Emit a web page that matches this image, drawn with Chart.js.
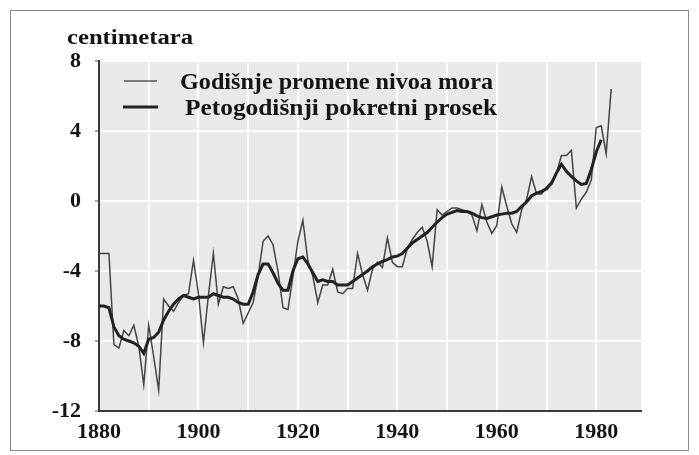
<!DOCTYPE html>
<html><head><meta charset="utf-8">
<script src="https://cdn.jsdelivr.net/npm/chart.js@4.4.1/dist/chart.umd.min.js"></script>
<style>
html,body{margin:0;padding:0;background:#fff;}
#wrap{position:relative;width:699px;height:455px;}
#frame{position:absolute;left:10px;top:10px;width:677px;height:439px;border:1px solid #8a8a8a;pointer-events:none;}
canvas{display:block;}
</style></head><body>
<div id="wrap"><canvas id="c" width="699" height="455"></canvas><div id="frame"></div></div>
<script>
// ---- data ----
const yearsAnnual = [1880,1881,1882,1883,1884,1885,1886,1887,1888,1889,
  1890,1891,1892,1893,1894,1895,1896,1897,1898,1899,
  1900,1901,1902,1903,1904,1905,1906,1907,1908,1909,
  1910,1911,1912,1913,1914,1915,1916,1917,1918,1919,
  1920,1921,1922,1923,1924,1925,1926,1927,1928,1929,
  1930,1931,1932,1933,1934,1935,1936,1937,1938,1939,
  1940,1941,1942,1943,1944,1945,1946,1947,1948,1949,
  1950,1951,1952,1953,1954,1955,1956,1957,1958,1959,
  1960,1961,1962,1963,1964,1965,1966,1967,1968,1969,
  1970,1971,1972,1973,1974,1975,1976,1977,1978,1979,
  1980,1981,1982,1983];
const annualChange = [-3.0,-3.0,-3.0,-8.2,-8.4,-7.4,-7.7,-7.1,-8.3,-10.5,
  -7.1,-8.9,-10.8,-5.6,-6.0,-6.3,-5.8,-5.4,-5.3,-3.4,
  -5.3,-8.1,-5.4,-3.0,-5.9,-4.9,-5.0,-4.9,-5.6,-7.0,
  -6.4,-5.8,-4.3,-2.3,-2.0,-2.5,-4.0,-6.1,-6.2,-4.3,
  -2.3,-1.1,-3.4,-4.3,-5.8,-4.8,-4.8,-3.9,-5.2,-5.3,
  -5.0,-5.0,-3.0,-4.2,-5.1,-3.9,-3.5,-3.8,-2.1,-3.5,
  -3.75,-3.75,-2.7,-2.2,-1.8,-1.5,-2.3,-3.75,-0.5,-0.8,
  -0.6,-0.4,-0.4,-0.5,-0.6,-0.8,-1.7,-0.2,-1.2,-1.85,
  -1.4,0.8,-0.3,-1.3,-1.8,-0.5,0.1,1.4,0.4,0.4,
  0.8,1.1,1.6,2.6,2.6,2.9,-0.4,0.1,0.5,1.2,
  4.2,4.3,2.7,6.4];
const yearsAverage = [1880,1881,1882,1883,1884,1885,1886,1887,1888,1889,
  1890,1891,1892,1893,1894,1895,1896,1897,1898,1899,
  1900,1901,1902,1903,1904,1905,1906,1907,1908,1909,
  1910,1911,1912,1913,1914,1915,1916,1917,1918,1919,
  1920,1921,1922,1923,1924,1925,1926,1927,1928,1929,
  1930,1931,1932,1933,1934,1935,1936,1937,1938,1939,
  1940,1941,1942,1943,1944,1945,1946,1947,1948,1949,
  1950,1951,1952,1953,1954,1955,1956,1957,1958,1959,
  1960,1961,1962,1963,1964,1965,1966,1967,1968,1969,
  1970,1971,1972,1973,1974,1975,1976,1977,1978,1979,
  1980,1981];
const movingAverage = [-6.0,-6.0,-6.1,-7.2,-7.7,-7.9,-8.0,-8.1,-8.3,-8.7,
  -7.9,-7.8,-7.5,-6.8,-6.3,-5.9,-5.6,-5.4,-5.5,-5.6,
  -5.5,-5.5,-5.5,-5.3,-5.4,-5.5,-5.5,-5.6,-5.8,-5.9,
  -5.9,-5.2,-4.2,-3.6,-3.6,-4.1,-4.7,-5.1,-5.1,-4.0,
  -3.3,-3.2,-3.6,-4.1,-4.6,-4.5,-4.6,-4.6,-4.8,-4.8,
  -4.8,-4.6,-4.4,-4.2,-4.0,-3.75,-3.6,-3.45,-3.35,-3.2,
  -3.15,-3.0,-2.7,-2.4,-2.2,-2.0,-1.8,-1.5,-1.2,-0.95,
  -0.75,-0.65,-0.55,-0.6,-0.6,-0.7,-0.85,-0.95,-1.0,-0.9,
  -0.8,-0.75,-0.7,-0.7,-0.6,-0.3,-0.05,0.3,0.45,0.55,
  0.7,1.0,1.6,2.1,1.7,1.4,1.15,0.95,1.0,1.8,
  2.8,3.5];
const xTickLabels = [1880,1900,1920,1940,1960,1980];
const yTickLabels = [-12,-8,-4,0,4,8];
const seriesNames = ['Godišnje promene nivoa mora','Petogodišnji pokretni prosek'];
const unitLabel = 'centimetara';

// ---- styling / drawing ----
const SERIF = '"Liberation Serif", "Times New Roman", serif';
const plotBg = {
  id: 'plotBg',
  beforeDraw(chart){
    const a = chart.chartArea, ctx = chart.ctx;
    ctx.save(); ctx.fillStyle = '#e9e9e9';
    ctx.fillRect(a.left, a.top, a.right - a.left, a.bottom - a.top);
    ctx.restore();
  }
};
function stretchText(ctx, text, x, y, font, targetW){
  ctx.save();
  ctx.font = font;
  const w = ctx.measureText(text).width;
  ctx.translate(x, y);
  ctx.scale(targetW / w, 1);
  ctx.fillText(text, 0, 0);
  ctx.restore();
}
const overlayText = {
  id: 'overlayText',
  afterDraw(chart){
    const ctx = chart.ctx;
    ctx.save();
    ctx.fillStyle = '#141414';
    ctx.textBaseline = 'alphabetic';
    ctx.textAlign = 'left';
    stretchText(ctx, unitLabel, 67, 44, 'bold 20px ' + SERIF, 126);
    // legend samples
    ctx.strokeStyle = '#555555'; ctx.lineWidth = 1.3;
    ctx.beginPath(); ctx.moveTo(124, 81); ctx.lineTo(157, 81); ctx.stroke();
    ctx.strokeStyle = '#222222'; ctx.lineWidth = 3;
    ctx.beginPath(); ctx.moveTo(123, 107); ctx.lineTo(158, 107); ctx.stroke();
    stretchText(ctx, seriesNames[0], 180, 89, 'bold 23px ' + SERIF, 313);
    stretchText(ctx, seriesNames[1], 185, 115, 'bold 23px ' + SERIF, 312);
    ctx.restore();
  }
};

const tickFont = {family: SERIF, weight: 'bold', size: 22};
new Chart(document.getElementById('c'), {
  type: 'line',
  data: {
    datasets: [
      {
        label: seriesNames[0],
        data: yearsAnnual.map((x, i) => ({x: x, y: annualChange[i]})),
        borderColor: '#444444', borderWidth: 1.5,
        pointRadius: 0, tension: 0, fill: false, order: 2
      },
      {
        label: seriesNames[1],
        data: yearsAverage.map((x, i) => ({x: x, y: movingAverage[i]})),
        borderColor: '#222222', borderWidth: 3,
        pointRadius: 0, tension: 0, fill: false, order: 1
      }
    ]
  },
  options: {
    responsive: false,
    animation: false,
    devicePixelRatio: 1,
    layout: {padding: {top: 61, right: 58, left: 0, bottom: 0}},
    plugins: {legend: {display: false}, tooltip: {enabled: false}, title: {display: false}},
    scales: {
      x: {
        type: 'linear', min: 1880, max: 1989,
        afterFit(s){ s.height = 44; },
        ticks: {
          stepSize: 10, autoSkip: false, includeBounds: false, maxRotation: 0,
          padding: 8, color: '#141414', font: tickFont,
          callback: v => xTickLabels.includes(v) ? String(v) : ''
        },
        grid: {
          color: c => (c.tick && c.tick.value === 1880) ? 'rgba(0,0,0,0)' : '#ffffff',
          lineWidth: 2, drawTicks: false
        },
        border: {display: true, color: '#3a3a3a', width: 2}
      },
      y: {
        min: -12, max: 8,
        afterFit(s){ s.width = 99; },
        ticks: {
          stepSize: 4, padding: 14, color: '#141414', font: tickFont,
          callback: v => yTickLabels.includes(v) ? String(v) : ''
        },
        grid: {
          color: c => (c.tick && c.tick.value === -12) ? 'rgba(0,0,0,0)' : '#ffffff',
          lineWidth: 2, tickLength: 4, tickColor: '#555', tickWidth: 1
        },
        border: {display: true, color: '#3a3a3a', width: 2}
      }
    }
  },
  plugins: [plotBg, overlayText]
});
</script>
</body></html>
